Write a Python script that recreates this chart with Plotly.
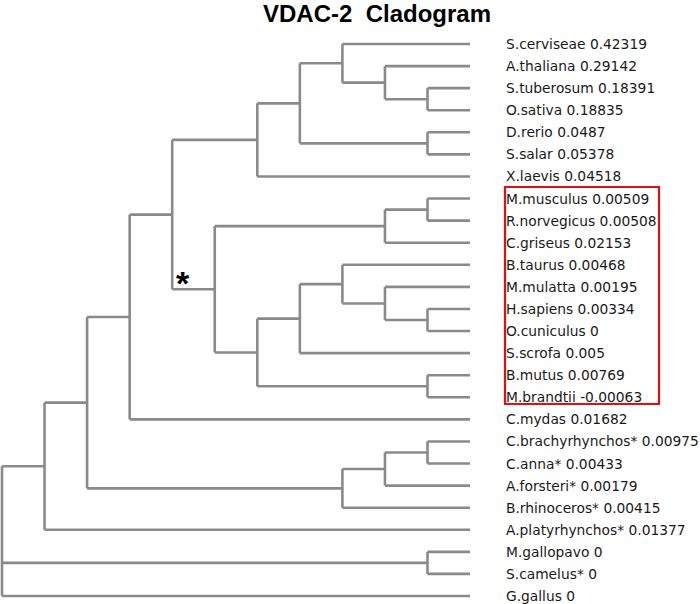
import plotly.graph_objects as go

# ---------------- data ----------------
species = ["S.cerviseae", "A.thaliana", "S.tuberosum", "O.sativa", "D.rerio", "S.salar",
           "X.laevis", "M.musculus", "R.norvegicus", "C.griseus", "B.taurus", "M.mulatta",
           "H.sapiens", "O.cuniculus", "S.scrofa", "B.mutus", "M.brandtii", "C.mydas",
           "C.brachyrhynchos*", "C.anna*", "A.forsteri*", "B.rhinoceros*",
           "A.platyrhynchos*", "M.gallopavo", "S.camelus*", "G.gallus"]
scores = [0.42319, 0.29142, 0.18391, 0.18835, 0.0487, 0.05378,
          0.04518, 0.00509, 0.00508, 0.02153, 0.00468, 0.00195,
          0.00334, 0, 0.005, 0.00769, -0.00063, 0.01682,
          0.00975, 0.00433, 0.00179, 0.00415,
          0.01377, 0, 0, 0]

# tree topology (nested clades of species names)
mammal_clade = [[["M.musculus", "R.norvegicus"], "C.griseus"],
                [[["B.taurus", ["M.mulatta", ["H.sapiens", "O.cuniculus"]]], "S.scrofa"],
                 ["B.mutus", "M.brandtii"]]]
upper_clade = [[["S.cerviseae", ["A.thaliana", ["S.tuberosum", "O.sativa"]]],
                ["D.rerio", "S.salar"]], "X.laevis"]
bird_clade = [[["C.brachyrhynchos*", "C.anna*"], "A.forsteri*"], "B.rhinoceros*"]
topology = [[[[[upper_clade, mammal_clade], "C.mydas"], bird_clade], "A.platyrhynchos*"],
            ["M.gallopavo", "S.camelus*"], "G.gallus"]

# ---------------- layout computation ----------------
leaf_index = {name: i for i, name in enumerate(species)}


def height(node):
    if isinstance(node, str):
        return 0
    return 1 + max(height(c) for c in node)


TOTAL = height(topology)
xs, ys = [], []
marked = {}


def place(node):
    """returns (x_level, y_index) of node, appends line segments"""
    if isinstance(node, str):
        return TOTAL, leaf_index[node]
    nx = TOTAL - height(node)
    kids = [place(c) for c in node]
    ny = (kids[0][1] + kids[-1][1]) / 2
    xs.extend([nx, nx, None])
    ys.extend([kids[0][1], kids[-1][1], None])
    for kx, ky in kids:
        xs.extend([nx, kx, None])
        ys.extend([ky, ky, None])
    if node is mammal_clade:
        marked["star"] = (nx, ny)
    return nx, ny


place(topology)

# pixel geometry
W, H = 700, 604
X0_PX, STEP_X = 2, 42.55
Y0_PX, STEP_Y = 44, 22.08

fig = go.Figure()
fig.add_trace(go.Scatter(x=xs, y=ys, mode="lines",
                         line=dict(color="#8a8a8a", width=2.6),
                         hoverinfo="skip", showlegend=False))

annotations = []
for i, (name, val) in enumerate(zip(species, scores)):
    annotations.append(dict(x=TOTAL, y=i, xref="x", yref="y", text=f"{name} {val}",
                            showarrow=False, xanchor="left", yanchor="middle",
                            xshift=34, font=dict(family="DejaVu Sans", size=13.8, color="#1a1a1a")))

# asterisk marking the mammal clade branch
sx, sy = marked["star"]
annotations.append(dict(x=sx - 1, y=sy, xref="x", yref="y", text="<b>*</b>",
                        showarrow=False, xanchor="center", yanchor="middle",
                        xshift=11, yshift=6,
                        font=dict(family="Liberation Sans", size=34, color="black")))

annotations.append(dict(x=377 / W, y=1 - 13 / H, xref="paper", yref="paper",
                        text="<b>VDAC-2&nbsp; Cladogram</b>", showarrow=False,
                        xanchor="center", yanchor="middle",
                        font=dict(family="Liberation Sans", size=24, color="black")))

fig.update_layout(
    width=W, height=H, margin=dict(l=0, r=0, t=0, b=0),
    paper_bgcolor="white", plot_bgcolor="white",
    xaxis=dict(range=[-X0_PX / STEP_X, (W - X0_PX) / STEP_X], visible=False, fixedrange=True),
    yaxis=dict(range=[(H - Y0_PX) / STEP_Y, -Y0_PX / STEP_Y], visible=False, fixedrange=True),
    annotations=annotations,
    shapes=[dict(type="rect", xref="paper", yref="paper",
                 x0=505 / W, x1=659 / W, y0=1 - 187 / H, y1=1 - 404 / H,
                 line=dict(color="#e01010", width=2.2))],
)

fig.write_html("out.html", config={"displayModeBar": False},
               post_script="document.body.style.margin='0px';document.body.style.overflow='hidden';")
